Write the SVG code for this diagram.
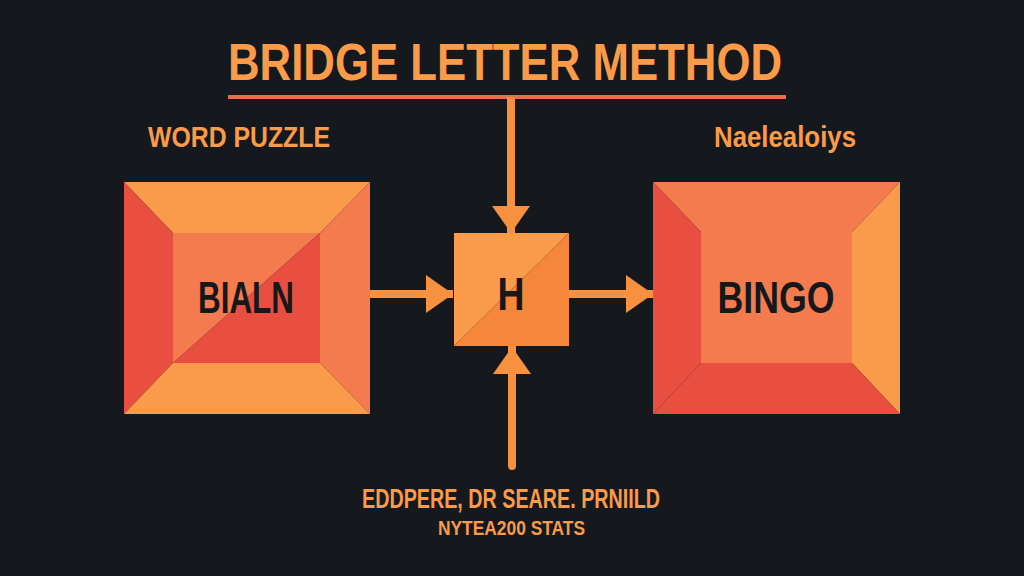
<svg xmlns="http://www.w3.org/2000/svg" width="1024" height="576" viewBox="0 0 1024 576">
<defs>
<style>
.t{font-family:"Liberation Sans",Arial,sans-serif;font-weight:bold;fill:#F99B48}
.lbl{font-family:"Liberation Sans",Arial,sans-serif;font-weight:bold;fill:#17181B;text-anchor:middle}
.lo{fill:#F99B4B}.co{fill:#F47B4E}.rd{fill:#E84F40}.dk{fill:#F5873A}
.conn{stroke:#F7913F;stroke-width:8;fill:none}
</style>
<marker id="ah" markerUnits="userSpaceOnUse" markerWidth="28" markerHeight="38" viewBox="0 0 28 38" refX="27" refY="19" orient="auto">
<path d="M0,0 L27,19 L0,38 z" fill="#F7913F"/>
</marker>
</defs>
<rect width="1024" height="576" fill="#15181D"/>

<g id="title">
<text class="t" x="228" y="80" font-size="52" textLength="554" lengthAdjust="spacingAndGlyphs">BRIDGE LETTER METHOD</text>
<line x1="228" y1="97" x2="786" y2="97" stroke="#EF6A4A" stroke-width="4"/>
</g>

<g id="label-left">
<text class="t" x="148" y="147" font-size="30" textLength="182" lengthAdjust="spacingAndGlyphs">WORD PUZZLE</text>
</g>
<g id="label-right">
<text class="t" x="714" y="147" font-size="30" textLength="142" lengthAdjust="spacingAndGlyphs">Naelealoiys</text>
</g>

<g id="connectors">
<line class="conn" x1="370" y1="294" x2="453" y2="294" marker-end="url(#ah)"/>
<line class="conn" x1="569" y1="294" x2="653" y2="294" marker-end="url(#ah)"/>
<line class="conn" x1="511" y1="97" x2="511" y2="233" marker-end="url(#ah)"/>
<line class="conn" x1="512" y1="466" x2="512" y2="347" marker-end="url(#ah)" stroke-linecap="round"/>
</g>

<g id="node-left">
<polygon class="lo" points="124,182 370,182 320,233 173,233"/>
<polygon class="rd" points="124,182 173,233 173,363 124,414"/>
<polygon class="co" points="370,182 370,414 320,363 320,233"/>
<polygon class="lo" points="124,414 173,363 320,363 370,414"/>
<polygon class="co" points="173,233 320,233 173,363"/>
<polygon class="rd" points="320,233 320,363 173,363"/>
<text class="lbl" x="246" y="313" font-size="44" textLength="96" lengthAdjust="spacingAndGlyphs">BIALN</text>
</g>

<g id="node-center">
<polygon class="lo" points="454,233 569,233 454,346"/>
<polygon class="dk" points="569,233 569,346 454,346"/>
<text class="lbl" x="511" y="310" font-size="46" textLength="27" lengthAdjust="spacingAndGlyphs">H</text>
</g>

<g id="node-right">
<polygon class="co" points="653,182 900,182 852,232 701,232"/>
<polygon class="rd" points="653,182 701,232 701,363 653,414"/>
<polygon class="lo" points="900,182 900,414 852,363 852,232"/>
<polygon class="rd" points="653,414 701,363 852,363 900,414"/>
<rect class="co" x="701" y="232" width="151" height="131"/>
<text class="lbl" x="776" y="313" font-size="44" textLength="117" lengthAdjust="spacingAndGlyphs">BINGO</text>
</g>

<g id="caption">
<text class="t" x="362" y="508" font-size="27" textLength="298" lengthAdjust="spacingAndGlyphs">EDDPERE, DR SEARE. PRNIILD</text>
<text class="t" x="438" y="535" font-size="20" textLength="147" lengthAdjust="spacingAndGlyphs">NYTEA200 STATS</text>
</g>
</svg>
